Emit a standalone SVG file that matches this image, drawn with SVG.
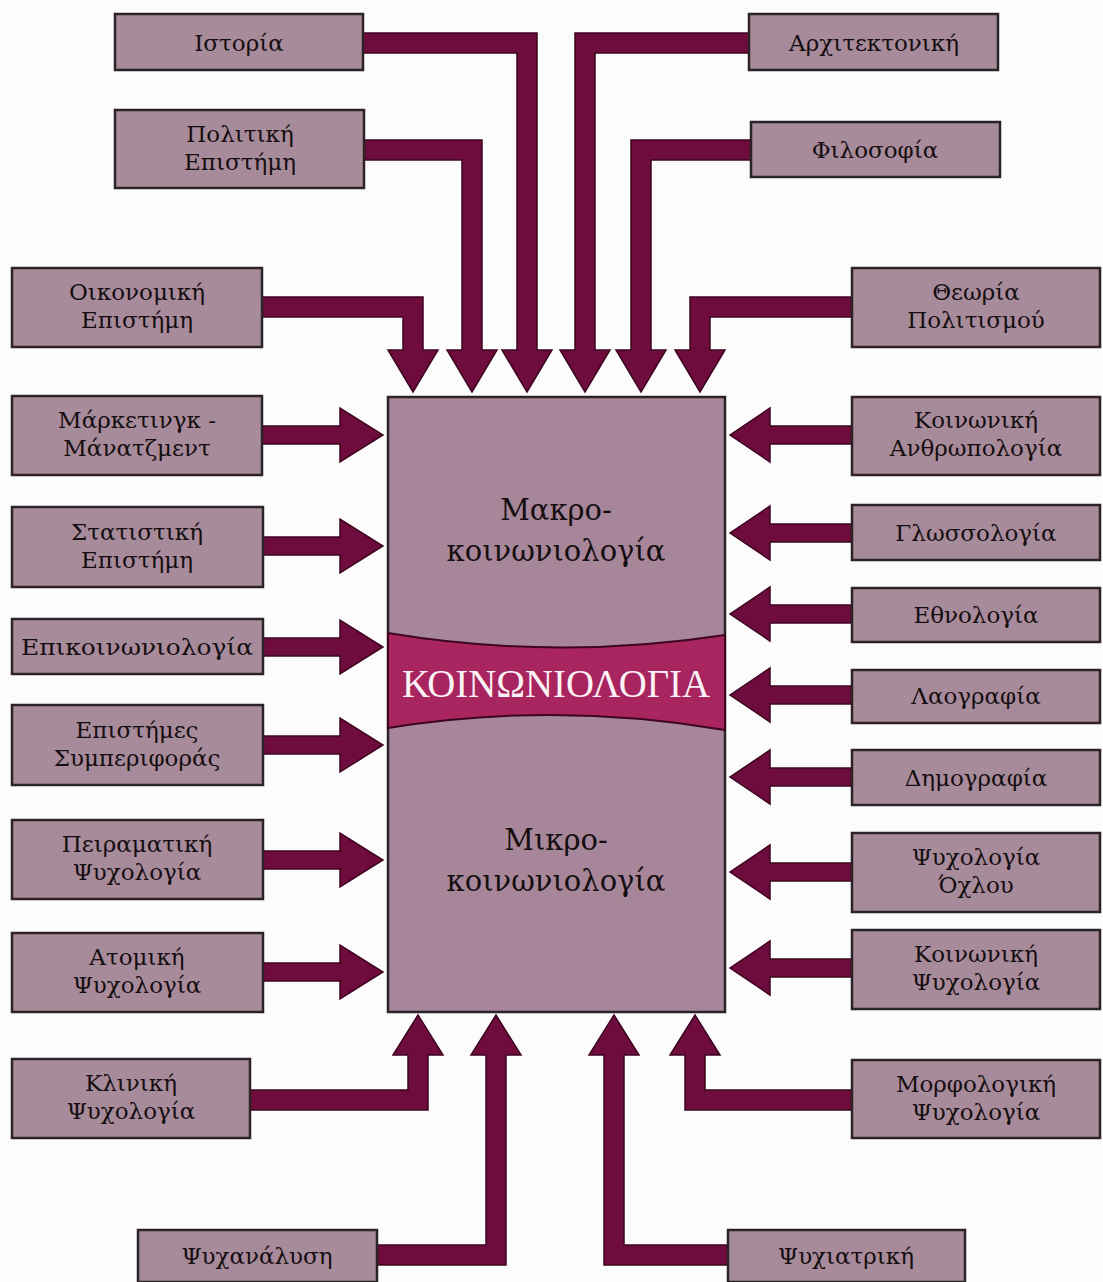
<svg xmlns="http://www.w3.org/2000/svg" width="1103" height="1282" viewBox="0 0 1103 1282">
<style>
.box{fill:#a88b9a;stroke:#2b2326;stroke-width:2.5}
.lbl{font-family:"DejaVu Serif","Liberation Serif",serif;font-size:23px;fill:#150e10;text-anchor:middle}
.arr{fill:#6d0c3d;stroke:#3d0520;stroke-width:1.5;stroke-linejoin:miter}
.big{font-family:"DejaVu Serif","Liberation Serif",serif;font-size:29px;fill:#150e10;text-anchor:middle}
</style>
<rect width="1103" height="1282" fill="#fdfcfc"/>
<g id="center">
<rect x="388" y="397" width="337" height="615" fill="#a7869a" stroke="#2b2326" stroke-width="2.5"/>
<path d="M388,633 Q556,661 725,635 L725,730 Q556,701 388,728 Z" fill="#a8255f" stroke="#3d0520" stroke-width="2"/>
<text x="556" y="697" font-family="Liberation Serif,DejaVu Serif,serif" font-size="40" fill="#fbf2f6" text-anchor="middle" textLength="308" lengthAdjust="spacingAndGlyphs">ΚΟΙΝΩΝΙΟΛΟΓΙΑ</text>
<text class="big" x="556" y="520">Μακρο-</text>
<text class="big" x="556" y="561">κοινωνιολογία</text>
<text class="big" x="556" y="850">Μικρο-</text>
<text class="big" x="556" y="891">κοινωνιολογία</text>
</g>
<g id="connectors">
<polygon class="arr" points="262,297 423,297 423,350 438,350 413,392 388,350 403,350 403,317 262,317"/>
<polygon class="arr" points="364,140 482,140 482,350 497,350 472,392 447,350 462,350 462,160 364,160"/>
<polygon class="arr" points="362,33 537,33 537,350 552,350 527,392 502,350 517,350 517,53 362,53"/>
<polygon class="arr" points="749,33 575,33 575,350 560,350 585,392 610,350 595,350 595,53 749,53"/>
<polygon class="arr" points="751,140 631,140 631,350 616,350 641,392 666,350 651,350 651,160 751,160"/>
<polygon class="arr" points="852,297 690,297 690,350 675,350 700,392 725,350 710,350 710,317 852,317"/>
<polygon class="arr" points="262,426 340,426 340,408 383,435 340,462 340,444 262,444"/>
<polygon class="arr" points="263,537 340,537 340,519 383,546 340,573 340,555 263,555"/>
<polygon class="arr" points="263,638 340,638 340,620 383,647 340,674 340,656 263,656"/>
<polygon class="arr" points="263,736 340,736 340,718 383,745 340,772 340,754 263,754"/>
<polygon class="arr" points="263,851 340,851 340,833 383,860 340,887 340,869 263,869"/>
<polygon class="arr" points="263,963 340,963 340,945 383,972 340,999 340,981 263,981"/>
<polygon class="arr" points="852,426 770,426 770,408 730,435 770,462 770,444 852,444"/>
<polygon class="arr" points="852,524 770,524 770,506 730,533 770,560 770,542 852,542"/>
<polygon class="arr" points="852,605 770,605 770,587 730,614 770,641 770,623 852,623"/>
<polygon class="arr" points="852,686 770,686 770,668 730,695 770,722 770,704 852,704"/>
<polygon class="arr" points="852,768 770,768 770,750 730,777 770,804 770,786 852,786"/>
<polygon class="arr" points="852,863 770,863 770,845 730,872 770,899 770,881 852,881"/>
<polygon class="arr" points="852,959 770,959 770,941 730,968 770,995 770,977 852,977"/>
<polygon class="arr" points="250,1090 408,1090 408,1055 393,1055 418,1015 443,1055 428,1055 428,1110 250,1110"/>
<polygon class="arr" points="377,1245 486,1245 486,1055 471,1055 496,1015 521,1055 506,1055 506,1265 377,1265"/>
<polygon class="arr" points="728,1245 624,1245 624,1055 639,1055 614,1015 589,1055 604,1055 604,1265 728,1265"/>
<polygon class="arr" points="852,1090 705,1090 705,1055 720,1055 695,1015 670,1055 685,1055 685,1110 852,1110"/>
</g>
<g id="n-istoria"><rect class="box" x="115" y="14" width="248" height="56"/><text class="lbl" x="239" y="51">Ιστορία</text></g>
<g id="n-politiki"><rect class="box" x="115" y="110" width="249" height="78"/><text class="lbl" x="240" y="142">Πολιτική</text><text class="lbl" x="240" y="170">Επιστήμη</text></g>
<g id="n-oikonomiki"><rect class="box" x="12" y="268" width="250" height="79"/><text class="lbl" x="137" y="300">Οικονομική</text><text class="lbl" x="137" y="328">Επιστήμη</text></g>
<g id="n-marketing"><rect class="box" x="12" y="396" width="250" height="79"/><text class="lbl" x="137" y="428">Μάρκετινγκ -</text><text class="lbl" x="137" y="456">Μάνατζμεντ</text></g>
<g id="n-statistiki"><rect class="box" x="12" y="507" width="251" height="80"/><text class="lbl" x="137" y="540">Στατιστική</text><text class="lbl" x="137" y="568">Επιστήμη</text></g>
<g id="n-epikoinoniologia"><rect class="box" x="12" y="619" width="251" height="55"/><text class="lbl" x="137" y="655" textLength="232" lengthAdjust="spacingAndGlyphs">Επικοινωνιολογία</text></g>
<g id="n-symperiforas"><rect class="box" x="12" y="705" width="251" height="80"/><text class="lbl" x="137" y="738">Επιστήμες</text><text class="lbl" x="137" y="766">Συμπεριφοράς</text></g>
<g id="n-peiramatiki"><rect class="box" x="12" y="820" width="251" height="79"/><text class="lbl" x="137" y="852">Πειραματική</text><text class="lbl" x="137" y="880">Ψυχολογία</text></g>
<g id="n-atomiki"><rect class="box" x="12" y="933" width="251" height="79"/><text class="lbl" x="137" y="965">Ατομική</text><text class="lbl" x="137" y="993">Ψυχολογία</text></g>
<g id="n-kliniki"><rect class="box" x="12" y="1059" width="238" height="79"/><text class="lbl" x="131" y="1091">Κλινική</text><text class="lbl" x="131" y="1119">Ψυχολογία</text></g>
<g id="n-psychanalysi"><rect class="box" x="138" y="1230" width="239" height="52"/><text class="lbl" x="257" y="1264">Ψυχανάλυση</text></g>
<g id="n-architektoniki"><rect class="box" x="749" y="14" width="249" height="56"/><text class="lbl" x="874" y="51">Αρχιτεκτονική</text></g>
<g id="n-filosofia"><rect class="box" x="751" y="122" width="249" height="55"/><text class="lbl" x="875" y="158">Φιλοσοφία</text></g>
<g id="n-theoria"><rect class="box" x="852" y="268" width="248" height="79"/><text class="lbl" x="976" y="300">Θεωρία</text><text class="lbl" x="976" y="328">Πολιτισμού</text></g>
<g id="n-anthropologia"><rect class="box" x="852" y="397" width="248" height="78"/><text class="lbl" x="976" y="428">Κοινωνική</text><text class="lbl" x="976" y="456">Ανθρωπολογία</text></g>
<g id="n-glossologia"><rect class="box" x="852" y="505" width="248" height="55"/><text class="lbl" x="976" y="541">Γλωσσολογία</text></g>
<g id="n-ethnologia"><rect class="box" x="852" y="588" width="248" height="54"/><text class="lbl" x="976" y="623">Εθνολογία</text></g>
<g id="n-laografia"><rect class="box" x="852" y="670" width="248" height="53"/><text class="lbl" x="976" y="704">Λαογραφία</text></g>
<g id="n-dimografia"><rect class="box" x="852" y="750" width="248" height="55"/><text class="lbl" x="976" y="786">Δημογραφία</text></g>
<g id="n-ochlou"><rect class="box" x="852" y="833" width="248" height="79"/><text class="lbl" x="976" y="865">Ψυχολογία</text><text class="lbl" x="976" y="893">Όχλου</text></g>
<g id="n-koinoniki-psy"><rect class="box" x="852" y="930" width="248" height="79"/><text class="lbl" x="976" y="962">Κοινωνική</text><text class="lbl" x="976" y="990">Ψυχολογία</text></g>
<g id="n-morfologiki"><rect class="box" x="852" y="1060" width="248" height="78"/><text class="lbl" x="976" y="1092">Μορφολογική</text><text class="lbl" x="976" y="1120">Ψυχολογία</text></g>
<g id="n-psychiatriki"><rect class="box" x="728" y="1230" width="237" height="52"/><text class="lbl" x="846" y="1264">Ψυχιατρική</text></g>
</svg>
